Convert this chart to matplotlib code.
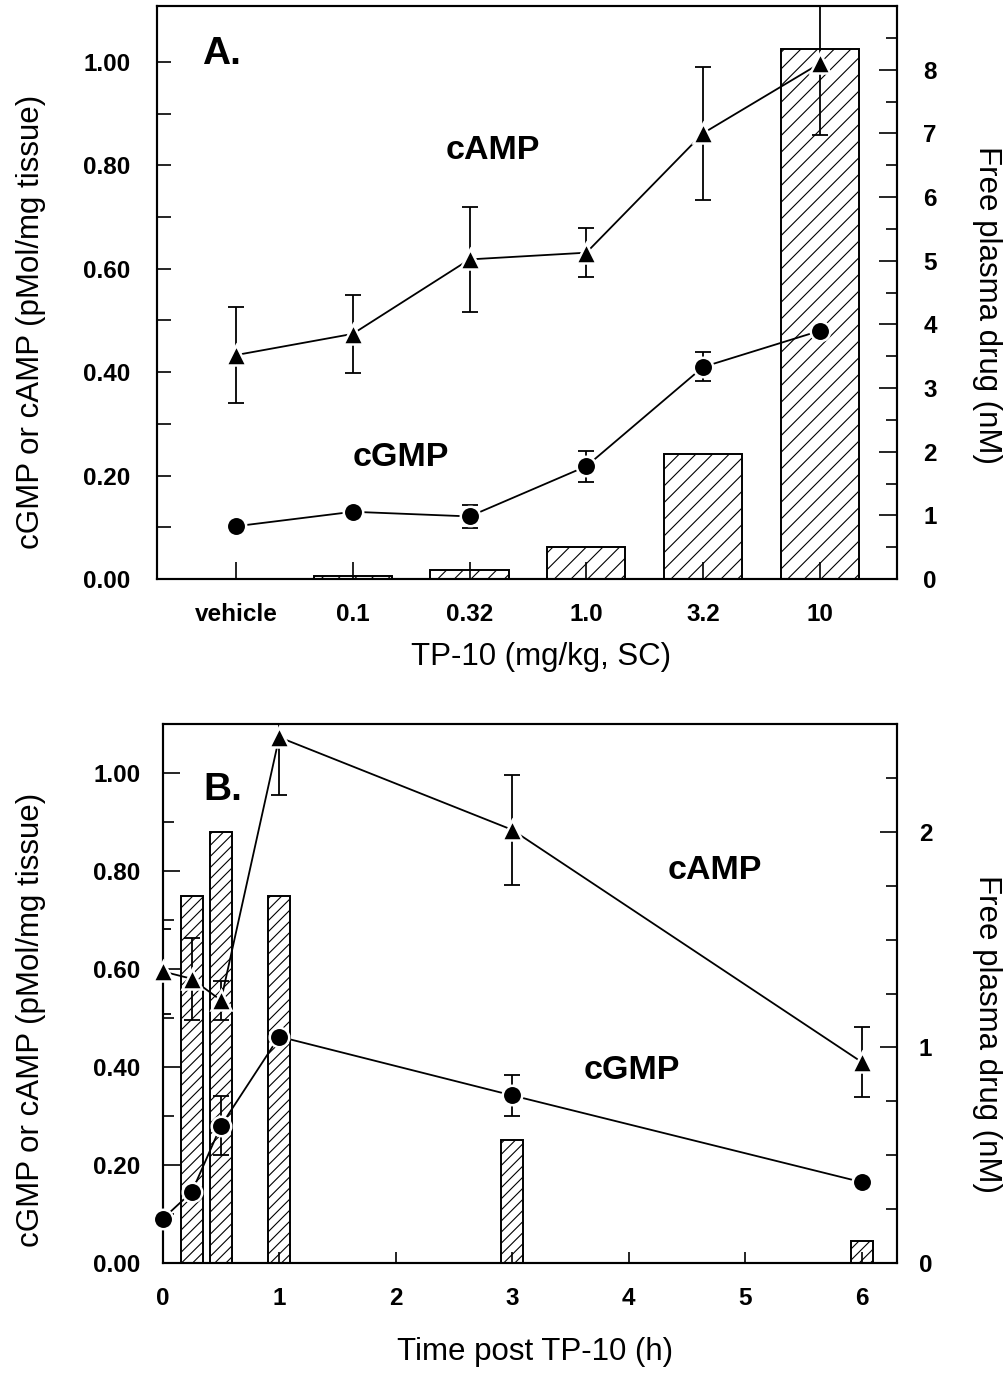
import matplotlib
matplotlib.use("Agg")
import matplotlib.pyplot as plt
from matplotlib.ticker import FormatStrFormatter, FixedLocator
import numpy as np

plt.rcParams['font.family'] = ['Liberation Sans', 'DejaVu Sans']
plt.rcParams['hatch.linewidth'] = 0.8

# ---------------- Panel A data ----------------
dose_labels = ["vehicle", "0.1", "0.32", "1.0", "3.2", "10"]
a_camp = [0.433, 0.474, 0.618, 0.631, 0.862, 0.997]
a_camp_err = [0.092, 0.075, 0.101, 0.047, 0.129, 0.138]
a_cgmp = [0.102, 0.130, 0.121, 0.218, 0.410, 0.480]
a_cgmp_err = [0.0, 0.0, 0.022, 0.030, 0.028, 0.0]
a_drug = [0.0, 0.04, 0.14, 0.50, 1.96, 8.33]

# ---------------- Panel B data ----------------
b_time = [0, 0.25, 0.5, 1, 3, 6]
b_camp = [0.595, 0.580, 0.536, 1.073, 0.884, 0.410]
b_camp_err = [0.086, 0.084, 0.040, 0.117, 0.112, 0.072]
b_cgmp = [0.090, 0.145, 0.280, 0.462, 0.342, 0.165]
b_cgmp_err = [0.0, 0.0, 0.060, 0.0, 0.041, 0.0]
b_drug_time = [0.25, 0.5, 1, 3, 6]
b_drug = [1.70, 2.00, 1.70, 0.57, 0.10]

W, H = 1007, 1383
fig = plt.figure(figsize=(W / 100, H / 100), dpi=100)


def rect(l, r, t, b):
    return [l / W, 1 - b / H, (r - l) / W, (b - t) / H]


def ft(x, y, s, **kw):
    fig.text(x / W, 1 - y / H, s, **kw)


TICKFS = 17.5
LABFS = 22.5
ANNFS = 24.5
PANFS = 28

# =============== Panel A ===============
ax1 = fig.add_axes(rect(157, 897, 6, 579))
ax1r = ax1.twinx()
ax1.set_zorder(ax1r.get_zorder() + 1)
ax1.patch.set_visible(False)

xa = np.arange(len(dose_labels))
ax1r.bar(xa, a_drug, width=0.67, color="white", edgecolor="black",
         linewidth=1.4, hatch="//", zorder=1)
ax1r.set_ylim(0, 9.0)

ax1.errorbar(xa, a_camp, yerr=a_camp_err, fmt="none", ecolor="black",
             elinewidth=1.3, capsize=5.5, capthick=1.3, zorder=2)
ax1.errorbar(xa, a_cgmp, yerr=a_cgmp_err, fmt="none", ecolor="black",
             elinewidth=1.3, capsize=5.5, capthick=1.3, zorder=2)
ax1.plot(xa, a_camp, color="black", lw=1.3, zorder=2)
ax1.plot(xa, a_cgmp, color="black", lw=1.3, zorder=2)
ax1.plot(xa, a_camp, ls="none", marker="^", ms=15, mfc="black",
         mec="white", mew=1.8, zorder=3, clip_on=False)
ax1.plot(xa, a_cgmp, ls="none", marker="o", ms=14, mfc="black",
         mec="white", mew=1.8, zorder=3, clip_on=False)

ax1.set_xlim(-0.676, 5.66)
ax1.set_ylim(0, 1.108)
ax1.set_xticks(xa)
ax1.set_xticklabels(dose_labels)
ax1.yaxis.set_major_locator(FixedLocator([0, 0.2, 0.4, 0.6, 0.8, 1.0]))
ax1.yaxis.set_minor_locator(FixedLocator([0.1, 0.3, 0.5, 0.7, 0.9]))
ax1.yaxis.set_major_formatter(FormatStrFormatter("%.2f"))
ax1.tick_params(axis="y", which="major", direction="in", length=10, width=1.2,
                pad=19, labelsize=TICKFS)
ax1.tick_params(axis="y", which="minor", direction="in", length=10, width=1.2)
ax1.tick_params(axis="x", which="major", direction="in", length=12, width=1.2,
                pad=17, labelsize=TICKFS)
for lab in ax1.get_xticklabels() + ax1.get_yticklabels():
    lab.set_fontweight("bold")

ax1r.yaxis.set_major_locator(FixedLocator(list(range(0, 9))))
ax1r.yaxis.set_minor_locator(FixedLocator([i + 0.5 for i in range(0, 9)]))
ax1r.tick_params(axis="y", which="major", direction="in", length=13, width=1.2,
                 pad=19, labelsize=TICKFS)
ax1r.tick_params(axis="y", which="minor", direction="in", length=8, width=1.2)
for lab in ax1r.get_yticklabels():
    lab.set_fontweight("bold")

for ax in (ax1, ax1r):
    for sp in ax.spines.values():
        sp.set_linewidth(1.5)

ax1.text(-0.29, 1.015, "A.", fontsize=PANFS, fontweight="bold",
         ha="left", va="center")
ax1.text(2.20, 0.828, "cAMP", fontsize=ANNFS, fontweight="bold",
         ha="center", va="center")
ax1.text(1.41, 0.234, "cGMP", fontsize=ANNFS, fontweight="bold",
         ha="center", va="center")

ft(31, 322, "cGMP or cAMP (pMol/mg tissue)", rotation=90, fontsize=LABFS,
   ha="center", va="center")
ft(987, 305, "Free plasma drug (nM)", rotation=270, fontsize=LABFS,
   ha="center", va="center")
ft(541, 657, "TP-10 (mg/kg, SC)", fontsize=LABFS, ha="center", va="center")

# =============== Panel B ===============
ax2 = fig.add_axes(rect(162.7, 896.7, 724, 1263))
ax2r = ax2.twinx()
ax2.set_zorder(ax2r.get_zorder() + 1)
ax2.patch.set_visible(False)

ax2r.bar(b_drug_time, b_drug, width=0.19, color="white", edgecolor="black",
         linewidth=1.4, hatch="///", zorder=1)
ax2r.set_ylim(0, 2.5)

ax2.errorbar(b_time, b_camp, yerr=b_camp_err, fmt="none", ecolor="black",
             elinewidth=1.3, capsize=5.5, capthick=1.3, zorder=2)
ax2.errorbar(b_time, b_cgmp, yerr=b_cgmp_err, fmt="none", ecolor="black",
             elinewidth=1.3, capsize=5.5, capthick=1.3, zorder=2)
ax2.plot(b_time, b_camp, color="black", lw=1.3, zorder=2)
ax2.plot(b_time, b_cgmp, color="black", lw=1.3, zorder=2)
ax2.plot(b_time, b_camp, ls="none", marker="^", ms=15, mfc="black",
         mec="white", mew=1.8, zorder=3, clip_on=False)
ax2.plot(b_time, b_cgmp, ls="none", marker="o", ms=14, mfc="black",
         mec="white", mew=1.8, zorder=3, clip_on=False)

ax2.set_xlim(0, 6.3)
ax2.set_ylim(0, 1.10)
ax2.xaxis.set_major_locator(FixedLocator([0, 1, 2, 3, 4, 5, 6]))
ax2.yaxis.set_major_locator(FixedLocator([0, 0.2, 0.4, 0.6, 0.8, 1.0]))
ax2.yaxis.set_minor_locator(FixedLocator([0.1, 0.3, 0.5, 0.7, 0.9]))
ax2.yaxis.set_major_formatter(FormatStrFormatter("%.2f"))
ax2.tick_params(axis="y", which="major", direction="in", length=12, width=1.2,
                pad=16, labelsize=TICKFS)
ax2.tick_params(axis="y", which="minor", direction="in", length=8, width=1.2)
ax2.tick_params(axis="x", which="major", direction="in", length=8, width=1.2,
                pad=17, labelsize=TICKFS)
for lab in ax2.get_xticklabels() + ax2.get_yticklabels():
    lab.set_fontweight("bold")

ax2r.yaxis.set_major_locator(FixedLocator([0, 1, 2]))
ax2r.yaxis.set_minor_locator(FixedLocator([0.25, 0.5, 0.75, 1.25, 1.5, 1.75, 2.25]))
ax2r.tick_params(axis="y", which="major", direction="in", length=12, width=1.2,
                 pad=16, labelsize=TICKFS)
ax2r.tick_params(axis="y", which="minor", direction="in", length=8, width=1.2)
for lab in ax2r.get_yticklabels():
    lab.set_fontweight("bold")

for ax in (ax2, ax2r):
    for sp in ax.spines.values():
        sp.set_linewidth(1.5)

ax2.text(0.346, 0.965, "B.", fontsize=PANFS, fontweight="bold",
         ha="left", va="center")
ax2.text(4.737, 0.801, "cAMP", fontsize=ANNFS, fontweight="bold",
         ha="center", va="center")
ax2.text(4.025, 0.393, "cGMP", fontsize=ANNFS, fontweight="bold",
         ha="center", va="center")

ft(31, 1020, "cGMP or cAMP (pMol/mg tissue)", rotation=90, fontsize=LABFS,
   ha="center", va="center")
ft(987, 1034, "Free plasma drug (nM)", rotation=270, fontsize=LABFS,
   ha="center", va="center")
ft(535, 1352, "Time post TP-10 (h)", fontsize=LABFS, ha="center", va="center")

fig.savefig("out.png", dpi=100)
